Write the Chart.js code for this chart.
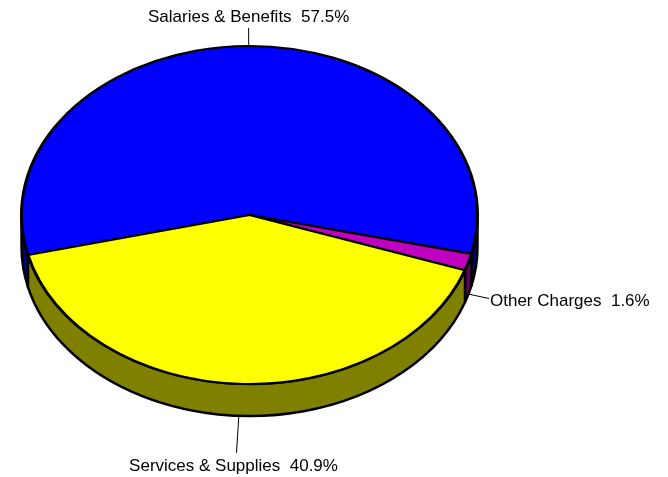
<!DOCTYPE html>
<html>
<head>
<meta charset="utf-8">
<script src="https://cdn.jsdelivr.net/npm/chart.js@4"></script>
<style>
  html, body { margin: 0; padding: 0; background: #fff; }
  #wrap { width: 668px; height: 477px; }
</style>
</head>
<body>
<div id="wrap"><canvas id="pie" width="668" height="477"></canvas></div>
<script>
const categories = ['Salaries & Benefits', 'Other Charges', 'Services & Supplies'];
const shares = [57.5, 1.6, 40.9];
const faceColors = ['#0000ff', '#c000c0', '#ffff00'];
const sideColors = ['#000080', '#600060', '#808000'];

// tilt of the disc, thickness of its rim and where its centre sits
const tilt = 169 / 228;
const depth = 32;
const discY = 215;
const leaderLen = [18, 21, 37];

// parts of [a, b] that lie on the near (lower) half of the disc
function frontSpans(a, b) {
  const TAU = Math.PI * 2;
  const out = [];
  for (let k = Math.floor(a / TAU) - 1; k <= Math.ceil(b / TAU); k++) {
    const lo = Math.max(a, k * TAU);
    const hi = Math.min(b, k * TAU + Math.PI);
    if (hi > lo) out.push([lo, hi]);
  }
  return out;
}

const pie3d = {
  id: 'pie3d',
  beforeDatasetsDraw(chart) {
    const ctx = chart.ctx;
    const arcs = chart.getDatasetMeta(0).data;
    const first = arcs[0];
    const cx = first.x, rx = first.outerRadius, ry = rx * tilt;

    // rim of the disc
    ctx.save();
    ctx.lineWidth = 2.5;
    ctx.lineJoin = 'round';
    ctx.strokeStyle = '#000';
    arcs.forEach((arc, i) => {
      frontSpans(arc.startAngle, arc.endAngle).forEach(([s, e]) => {
        ctx.beginPath();
        ctx.ellipse(cx, discY, rx, ry, 0, s, e);
        ctx.ellipse(cx, discY + depth, rx, ry, 0, e, s, true);
        ctx.closePath();
        ctx.fillStyle = sideColors[i];
        ctx.fill();
        ctx.stroke();
      });
    });
    ctx.restore();

    // squash the pie itself into the top face
    ctx.save();
    ctx.translate(0, discY);
    ctx.scale(1, tilt);
    ctx.translate(0, -first.y);
  },
  afterDatasetsDraw(chart) {
    const ctx = chart.ctx;
    ctx.restore();

    const arcs = chart.getDatasetMeta(0).data;
    const first = arcs[0];
    const cx = first.x, rx = first.outerRadius, ry = rx * tilt;

    ctx.save();
    ctx.font = '17px "Liberation Sans", Arial, sans-serif';
    ctx.fillStyle = '#000';
    ctx.strokeStyle = '#000';
    ctx.lineWidth = 1;
    arcs.forEach((arc, i) => {
      const m = (arc.startAngle + arc.endAngle) / 2;
      const c = Math.cos(m), s = Math.sin(m);
      const px = cx + rx * c;
      const py = discY + ry * s + (s > 0 ? depth : 0);
      const dx = c, dy = s * tilt, n = Math.hypot(dx, dy);
      const ex = px + dx / n * leaderLen[i];
      const ey = py + dy / n * leaderLen[i];

      ctx.beginPath();
      ctx.moveTo(px, py);
      ctx.lineTo(ex, ey);
      ctx.stroke();

      const text = categories[i] + '  ' + shares[i].toFixed(1) + '%';
      if (Math.abs(dx / n) > 0.7) {
        ctx.textAlign = dx > 0 ? 'left' : 'right';
        ctx.textBaseline = 'middle';
        ctx.fillText(text, ex + (dx > 0 ? 1 : -1), ey + 3);
      } else if (dy < 0) {
        ctx.textAlign = 'center';
        ctx.textBaseline = 'alphabetic';
        ctx.fillText(text, ex, ey - 6);
      } else {
        ctx.textAlign = 'center';
        ctx.textBaseline = 'alphabetic';
        ctx.fillText(text, ex - 3, ey + 18);
      }
    });
    ctx.restore();
  }
};

new Chart(document.getElementById('pie'), {
  type: 'pie',
  data: {
    labels: categories,
    datasets: [{
      data: shares,
      backgroundColor: faceColors,
      borderColor: '#000',
      borderWidth: 3,
      borderJoinStyle: 'round'
    }]
  },
  options: {
    responsive: false,
    animation: false,
    devicePixelRatio: 1,
    events: [],
    rotation: 256.3,
    layout: { padding: { left: 20, right: 189, top: 0, bottom: 0 } },
    plugins: {
      legend: { display: false },
      tooltip: { enabled: false }
    }
  },
  plugins: [pie3d]
});
</script>
</body>
</html>
